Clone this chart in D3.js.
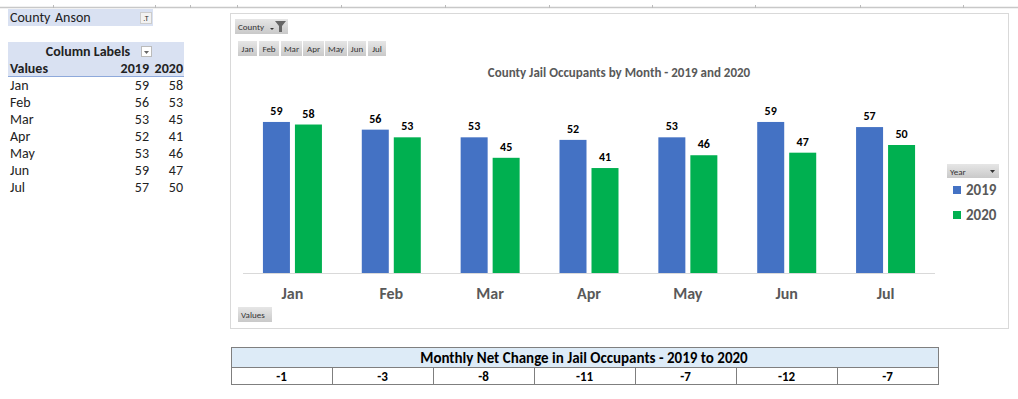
<!DOCTYPE html>
<html><head><meta charset="utf-8">
<script src="https://cdn.jsdelivr.net/npm/d3@7"></script>
<style>
html,body{margin:0;padding:0;background:#fff;}
svg{display:block;font-family:Carlito,Calibri,"Liberation Sans",Arial,sans-serif;}
</style></head>
<body>
<svg id="c" width="1018" height="399"></svg>
<script>
const months = ["Jan","Feb","Mar","Apr","May","Jun","Jul"];
const years = ["2019","2020"];
const values2019 = [59,56,53,52,53,59,57];
const values2020 = [58,53,45,41,46,47,50];
const colors = ["#4472C4","#00B050"];
const county = "Anson";
const netChange = values2020.map((v,i)=>v-values2019[i]);
const gridTicks = [53,155,190,237,341,445,549,652,755,860,963];

const svg = d3.select("#c");
const grey = "#595959";
const FF = 'Carlito,Calibri,"Liberation Sans",Arial,sans-serif';

// spreadsheet top line
svg.append("line").attr("x1",0).attr("x2",1018).attr("y1",7.5).attr("y2",7.5).attr("stroke","#c8c8c8").attr("stroke-width",1.5);
svg.selectAll(".gt").data(gridTicks).join("line").attr("x1",d=>d+0.5).attr("x2",d=>d+0.5).attr("y1",5).attr("y2",8).attr("stroke","#bbb");

// ---- pivot table on the left ----
const lt = svg.append("g").attr("fill","#222");
const FS = 14;
lt.append("rect").attr("x",8).attr("y",9).attr("width",145).attr("height",17).attr("fill","#D9E1F2");
lt.append("text").attr("x",10).attr("y",22).attr("font-size",FS).text("County");
lt.append("text").attr("x",55).attr("y",22).attr("font-size",FS).text(county);
lt.append("rect").attr("x",140.5).attr("y",12.5).attr("width",11).attr("height",11).attr("fill","#f2f2f2").attr("stroke","#ccc");
lt.append("text").attr("x",146).attr("y",21).attr("font-size",8).attr("text-anchor","middle").attr("fill","#333").text(".T");

lt.append("rect").attr("x",8).attr("y",42).attr("width",176).attr("height",34).attr("fill","#D9E1F2");
lt.append("line").attr("x1",8).attr("x2",184).attr("y1",76.5).attr("y2",76.5).attr("stroke","#8EA9DB");
lt.append("text").attr("x",88).attr("y",56).attr("font-size",FS).attr("font-weight","bold").attr("text-anchor","middle").text("Column Labels");
lt.append("rect").attr("x",141.5).attr("y",46.5).attr("width",10).attr("height",10).attr("fill","#fff").attr("stroke","#bbb");
lt.append("path").attr("d","M144,51 L149,51 L146.5,54 Z").attr("fill","#666");
lt.append("text").attr("x",10).attr("y",73).attr("font-size",FS).attr("font-weight","bold").text("Values");
lt.append("text").attr("x",149).attr("y",73).attr("font-size",FS).attr("font-weight","bold").attr("text-anchor","end").text(years[0]);
lt.append("text").attr("x",183).attr("y",73).attr("font-size",FS).attr("font-weight","bold").attr("text-anchor","end").text(years[1]);
const rows = lt.selectAll(".row").data(months).join("g").attr("transform",(d,i)=>`translate(0,${90+i*17})`);
rows.append("text").attr("x",10).attr("font-size",FS).text(d=>d);
rows.append("text").attr("x",149).attr("font-size",FS).attr("text-anchor","end").text((d,i)=>values2019[i]);
rows.append("text").attr("x",183).attr("font-size",FS).attr("text-anchor","end").text((d,i)=>values2020[i]);

// ---- chart frame ----
svg.append("rect").attr("x",230.5).attr("y",13.5).attr("width",778).attr("height",315).attr("fill","#fff").attr("stroke","#d9d9d9");

const defs = svg.append("defs");
const gr = defs.append("linearGradient").attr("id","btn").attr("x1",0).attr("x2",0).attr("y1",0).attr("y2",1);
gr.append("stop").attr("offset","0%").attr("stop-color","#e6e6e6");
gr.append("stop").attr("offset","100%").attr("stop-color","#c9c9c9");

function button(x,y,w,h,label,fs){
  const g = svg.append("g");
  g.append("rect").attr("x",x).attr("y",y).attr("width",w).attr("height",h).attr("fill","url(#btn)");
  g.append("text").attr("x",x+3).attr("y",y+h/2+3.5).attr("font-size",fs||9).attr("fill","#333").text(label);
  return g;
}
button(235,19,53,15,"County",9);
svg.append("path").attr("d","M270,28 L274,28 L272,30 Z").attr("fill","#333");
svg.append("path").attr("d","M275,21 L286,21 L282,26 L282,32 L279,32 L279,26 Z").attr("fill","#666");

const mbx = [238,259,281,303,325,348,368];
const mbw = [19,20,21,21,22,18,18];
months.forEach((m,i)=>{
  const g = svg.append("g");
  g.append("rect").attr("x",mbx[i]).attr("y",41).attr("width",mbw[i]).attr("height",15).attr("fill","url(#btn)");
  g.append("text").attr("x",mbx[i]+mbw[i]/2).attr("y",52).attr("text-anchor","middle").attr("font-size",9).attr("fill","#333").text(m);
});
button(238,307,34,15,"Values",9);

// title
svg.append("text").attr("x",619).attr("y",77).attr("text-anchor","middle").attr("font-size",13).attr("font-weight","bold").attr("fill",grey).text("County Jail Occupants by Month - 2019 and 2020");

// scales
const x0 = d3.scaleBand().domain(months).range([243,935]).paddingInner(0).paddingOuter(0);
const groupW = 59;
const x1 = d3.scaleBand().domain(years).range([0,groupW]).paddingInner(5/32).paddingOuter(0);
const y = d3.scaleLinear().domain([0,70]).range([273,273-70*2.56]);

const data = months.map((m,i)=>({m, vals:[values2019[i],values2020[i]]}));
const plot = svg.append("g");
plot.append("line").attr("x1",243).attr("x2",935).attr("y1",y(0)+0.5).attr("y2",y(0)+0.5).attr("stroke","#d9d9d9");

const grp = plot.selectAll(".grp").data(data).join("g")
  .attr("transform",d=>`translate(${x0(d.m)+(x0.bandwidth()-groupW)/2},0)`);
grp.selectAll("rect").data(d=>d.vals.map((v,j)=>({y:years[j],v,j}))).join("rect")
  .attr("x",d=>x1(d.y)).attr("width",x1.bandwidth())
  .attr("y",d=>y(d.v)).attr("height",d=>y(0)-y(d.v))
  .attr("fill",d=>colors[d.j]);
grp.selectAll("text").data(d=>d.vals.map((v,j)=>({y:years[j],v,j}))).join("text")
  .attr("x",d=>x1(d.y)+x1.bandwidth()/2).attr("y",d=>y(d.v)-7)
  .attr("text-anchor","middle").attr("font-size",12).attr("font-weight","bold").attr("fill","#000")
  .text(d=>d.v);

const xAxis = d3.axisBottom(x0).tickSize(0).tickPadding(0);
const ax = plot.append("g").attr("transform",`translate(0,${y(0)})`).call(xAxis).attr("font-family",FF);
ax.select(".domain").remove();
ax.selectAll("text").attr("dy",null).attr("y",26).attr("font-size",16).attr("font-weight","bold").attr("fill",grey);

// legend
const lgb = svg.append("g");
lgb.append("rect").attr("x",947).attr("y",164).attr("width",52).attr("height",14).attr("fill","url(#btn)");
lgb.append("text").attr("x",950).attr("y",174.5).attr("font-size",9).attr("fill","#333").text("Year");
lgb.append("path").attr("d","M990,170 L995,170 L992.5,173 Z").attr("fill","#333");
const lg = svg.selectAll(".lg").data(years).join("g").attr("transform",(d,i)=>`translate(953,${186+i*25})`);
lg.append("rect").attr("width",8).attr("height",8).attr("fill",(d,i)=>colors[i]);
lg.append("text").attr("x",13).attr("y",9).attr("font-size",15).attr("font-weight","bold").attr("fill",grey).text(d=>d);

// bottom table
const tx = d3.scaleBand().domain(months).range([231,938]);
const tb = svg.append("g");
tb.append("rect").attr("x",231.5).attr("y",347.5).attr("width",707).attr("height",20).attr("fill","#DDEBF7").attr("stroke","#7f7f7f");
tb.append("text").attr("x",584).attr("y",362.5).attr("text-anchor","middle").attr("font-size",15).attr("font-weight","bold").attr("fill","#000").text("Monthly Net Change in Jail Occupants - 2019 to 2020");
tb.selectAll(".nc").data(months).join("rect").attr("x",d=>Math.round(tx(d))+0.5).attr("y",367.5).attr("width",tx.bandwidth()).attr("height",17).attr("fill","#fff").attr("stroke","#7f7f7f");
tb.selectAll(".nt").data(months).join("text").attr("x",d=>tx(d)+tx.bandwidth()/2).attr("y",381).attr("text-anchor","middle").attr("font-size",13).attr("font-weight","bold").attr("fill","#000").text((d,i)=>netChange[i]);
</script>
</body></html>
